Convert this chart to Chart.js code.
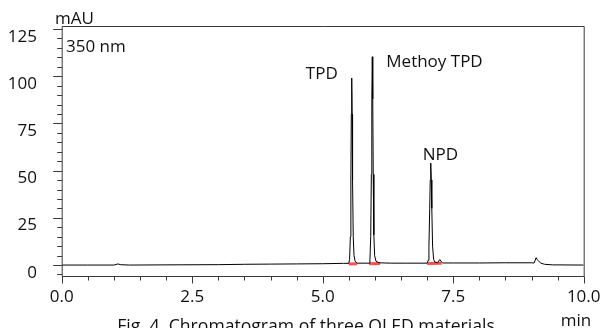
<!DOCTYPE html>
<html>
<head>
<meta charset="utf-8">
<script src="https://cdn.jsdelivr.net/npm/chart.js@4"></script>
<style>
  html, body { margin: 0; padding: 0; background: #fff; }
  #wrap { width: 603px; height: 328px; position: relative; }
</style>
</head>
<body>
<div id="wrap"><canvas id="chart"></canvas></div>
<script>
// Dados do cromatograma (tempo em min, sinal em mAU)
const retentionTime = [
  0.0, 0.5, 1.0, 1.08, 1.12, 1.3, 2.0, 3.0, 3.5, 4.0, 4.5, 5.0, 5.4,
  5.50, 5.515, 5.53, 5.54, 5.548, 5.556, 5.564, 5.572, 5.585, 5.60, 5.62, 5.66,
  5.89, 5.905, 5.92, 5.932, 5.941, 5.95, 5.959, 5.968, 5.98, 5.995, 6.02, 6.08,
  6.3, 6.6, 7.0, 7.02, 7.035, 7.05, 7.06, 7.07, 7.08, 7.09, 7.105, 7.125, 7.15,
  7.2, 7.23, 7.25, 7.27, 7.3, 7.5, 8.0, 8.5, 9.0, 9.05, 9.09, 9.11, 9.14, 9.18,
  9.25, 9.4, 10.0
];
const absorbance = [
  0.0, 0.0, 0.0, 0.6, 0.2, 0.0, 0.1, 0.2, 0.4, 0.5, 0.6, 0.7, 0.9,
  0.9, 3, 15, 45, 80, 99, 80, 45, 15, 5, 2, 1.0,
  1.0, 3, 15, 48, 88, 110.3, 88, 48, 16, 5, 2.0, 1.2,
  1.0, 1.0, 1.0, 2.5, 10, 30, 45, 54, 45, 30, 10, 3, 1.5,
  1.2, 2.5, 2.8, 1.8, 1.1, 1.1, 1.1, 1.2, 1.2, 1.1, 3.9, 2.8, 2.0, 1.0,
  0.4, 0.1, 0.0
];

// Linhas de base da integração (vermelho)
const baselineTime = [5.50, 5.66, null, 5.89, 6.10, null, 7.00, 7.28];
const baselineSignal = [0.6, 0.7, null, 0.7, 0.8, null, 0.8, 0.9];

// Picos identificados
const peakNames = ['TPD', 'Methoy TPD', 'NPD'];
const peakTimes = [5.556, 5.95, 7.07];
const peakHeights = [99, 110.3, 54];

const yTicks = [-5, 0, 5, 10, 15, 20, 25, 30, 35, 40, 45, 50, 55, 60, 65, 70, 75, 80, 85, 90, 95, 100, 105, 110, 115, 120, 125];
const yLabels = [0, 25, 50, 75, 100, 125];
const xTicks = [0, 0.5, 1, 1.5, 2, 2.5, 3, 3.5, 4, 4.5, 5, 5.5, 6, 6.5, 7, 7.5, 8, 8.5, 9, 9.5, 10];
const xLabels = [0, 2.5, 5, 7.5, 10];

const FONT = '"Open Sans", "Noto Sans", sans-serif';
const INK = '#111';
const AXIS = '#3a3a3a';

const trace = retentionTime.map((t, i) => ({ x: t, y: absorbance[i] }));
const redLine = baselineTime.map((t, i) =>
  t === null ? { x: (baselineTime[i - 1] + baselineTime[i + 1]) / 2, y: null } : { x: t, y: baselineSignal[i] });

// Plugin: moldura, marcas de escala e textos
const decor = {
  id: 'decor',
  afterDraw(chart) {
    const { ctx, chartArea: a, scales: { x, y } } = chart;
    ctx.save();
    ctx.strokeStyle = AXIS;
    ctx.lineWidth = 1;
    ctx.beginPath();
    ctx.moveTo(a.left + 0.5, a.bottom + 0.5);
    ctx.lineTo(a.left + 0.5, a.top + 0.5);
    ctx.lineTo(a.right + 0.5, a.top + 0.5);
    ctx.lineTo(a.right + 0.5, a.bottom + 0.5);
    ctx.lineTo(a.left + 0.5, a.bottom + 0.5);
    yTicks.forEach(v => {
      const py = Math.round(y.getPixelForValue(v)) + 0.5;
      const len = v % 25 === 0 ? 9 : 5;
      ctx.moveTo(a.left + 0.5, py);
      ctx.lineTo(a.left + 0.5 - len, py);
    });
    xTicks.forEach(v => {
      const px = Math.round(x.getPixelForValue(v)) + 0.5;
      const len = v % 2.5 === 0 ? 7 : 4;
      ctx.moveTo(px, a.bottom + 0.5);
      ctx.lineTo(px, a.bottom + 0.5 + len);
    });
    ctx.stroke();

    ctx.fillStyle = INK;
    ctx.font = '17px ' + FONT;
    ctx.textBaseline = 'alphabetic';

    // rótulos dos eixos
    ctx.textAlign = 'right';
    yLabels.forEach(v => {
      ctx.fillText(String(v), 37, y.getPixelForValue(v) + 12.5);
    });
    ctx.textAlign = 'center';
    xLabels.forEach(v => {
      ctx.fillText(v.toFixed(1), x.getPixelForValue(v), 302);
    });

    ctx.textAlign = 'left';
    ctx.fillText('mAU', 55, 24);
    ctx.fillText('350 nm', 66, 52);
    ctx.textAlign = 'center';
    ctx.fillText('min', 576, 326);
    ctx.font = '17.6px ' + FONT;
    ctx.fillText('Fig. 4. Chromatogram of three OLED materials', 306, 332);

    // rótulos dos picos
    ctx.font = '17px ' + FONT;
    const offsets = [[-14, 'right', 1], [14, 'left', 10], [-8, 'left', -3]];
    peakNames.forEach((name, i) => {
      const px = x.getPixelForValue(peakTimes[i]);
      const py = y.getPixelForValue(peakHeights[i]);
      ctx.textAlign = offsets[i][1];
      ctx.fillText(name, px + offsets[i][0], py + offsets[i][2]);
    });
    ctx.restore();
  }
};

const config = {
  type: 'line',
  data: {
    datasets: [
      {
        data: trace,
        borderColor: '#000',
        borderWidth: 1,
        pointRadius: 0,
        tension: 0,
        order: 1
      },
      {
        data: redLine,
        borderColor: 'rgba(255, 60, 60, 0.9)',
        borderWidth: 3,
        pointRadius: 0,
        spanGaps: false,
        order: 2
      }
    ]
  },
  options: {
    responsive: true,
    maintainAspectRatio: false,
    animation: false,
    layout: { padding: { top: 26, right: 19.3, left: 0, bottom: 0 } },
    plugins: { legend: { display: false }, tooltip: { enabled: false } },
    scales: {
      x: {
        type: 'linear',
        min: 0,
        max: 10,
        afterFit: s => { s.height = 52; },
        grid: { display: false, drawTicks: false },
        border: { display: false },
        ticks: { display: false }
      },
      y: {
        type: 'linear',
        min: -5.8,
        max: 126.6,
        afterFit: s => { s.width = 61.7; },
        grid: { display: false, drawTicks: false },
        border: { display: false },
        ticks: { display: false }
      }
    }
  },
  plugins: [decor]
};

const chartElement = document.getElementById('chart');
const myChart = new Chart(chartElement, config);
</script>
</body>
</html>
